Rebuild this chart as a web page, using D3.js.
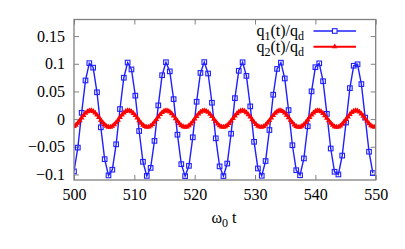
<!DOCTYPE html>
<html>
<head>
<meta charset="utf-8">
<script src="https://cdn.jsdelivr.net/npm/d3@7"></script>
<style>
  body { margin: 0; background: #fff; }
  svg text { font-family: "Liberation Serif", "Times New Roman", Times, "DejaVu Serif", serif; fill: #000; }
</style>
</head>
<body>
<div id="chart"></div>
<script>
// sampling grid (omega_0 t)
const t0 = 500;
const dtQ1 = 0.635;
const dtQ2 = 0.3175;

// q1(t)/q_d
const q1 = [
  -0.0944, -0.0515, 0.0114, 0.0699, 0.1011, 0.0930, 0.0485, -0.0148, -0.0724, -0.1017,
  -0.0914, -0.0455, 0.0182, 0.0748, 0.1022, 0.0898, 0.0424, -0.0215, -0.0771, -0.1026,
  -0.0881, -0.0393, 0.0248, 0.0793, 0.1028, 0.0863, 0.0361, -0.0281, -0.0814, -0.1030,
  -0.0844, -0.0329, 0.0314, 0.0835, 0.1030, 0.0824, 0.0296, -0.0347, -0.0854, -0.1029,
  -0.0803, -0.0263, 0.0379, 0.0873, 0.1027, 0.0781, 0.0230, -0.0410, -0.0891, -0.1024,
  -0.0758, -0.0197, 0.0441, 0.0907, 0.1020, 0.0735, 0.0163, -0.0472, -0.0923, -0.1014,
  -0.0710, -0.0129, 0.0502, 0.0938, 0.1008, 0.0685, 0.0095, -0.0531, -0.0951, -0.1000,
  -0.0659, -0.0061, 0.0560, 0.0964, 0.0991, 0.0633, 0.0027, -0.0589, -0.0975
];

// q2(t)/q_d
const q2 = [
  -0.0132, -0.0107, -0.0070, -0.0026, 0.0022, 0.0067, 0.0107, 0.0136, 0.0152, 0.0154,
  0.0140, 0.0113, 0.0076, 0.0031, -0.0017, -0.0062, -0.0100, -0.0128, -0.0143, -0.0143,
  -0.0128, -0.0100, -0.0061, -0.0016, 0.0031, 0.0076, 0.0114, 0.0141, 0.0154, 0.0152,
  0.0136, 0.0106, 0.0067, 0.0021, -0.0026, -0.0071, -0.0107, -0.0133, -0.0144, -0.0141,
  -0.0123, -0.0093, -0.0052, -0.0006, 0.0041, 0.0085, 0.0120, 0.0145, 0.0155, 0.0150,
  0.0131, 0.0099, 0.0058, 0.0011, -0.0036, -0.0079, -0.0114, -0.0136, -0.0145, -0.0139,
  -0.0118, -0.0085, -0.0043, 0.0004, 0.0051, 0.0093, 0.0127, 0.0148, 0.0155, 0.0147,
  0.0125, 0.0091, 0.0048, 0.0001, -0.0045, -0.0087, -0.0119, -0.0139, -0.0145, -0.0135,
  -0.0112, -0.0077, -0.0033, 0.0014, 0.0060, 0.0101, 0.0132, 0.0151, 0.0155, 0.0144,
  0.0119, 0.0082, 0.0039, -0.0009, -0.0055, -0.0095, -0.0125, -0.0142, -0.0144, -0.0132,
  -0.0105, -0.0068, -0.0024, 0.0024, 0.0069, 0.0108, 0.0137, 0.0153, 0.0154, 0.0139,
  0.0112, 0.0074, 0.0029, -0.0019, -0.0064, -0.0102, -0.0129, -0.0144, -0.0143, -0.0127,
  -0.0098, -0.0059, -0.0014, 0.0034, 0.0078, 0.0115, 0.0142, 0.0154, 0.0152, 0.0135,
  0.0105, 0.0065, 0.0019, -0.0028, -0.0072, -0.0109, -0.0134, -0.0145, -0.0141, -0.0122,
  -0.0091, -0.0050, -0.0004, 0.0043, 0.0087, 0.0122, 0.0145, 0.0155, 0.0149, 0.0129,
  0.0097, 0.0056, 0.0009, -0.0038, -0.0081, -0.0115, -0.0137, -0.0145
];

const xTicks = [500, 510, 520, 530, 540, 550];
const yTicks = [-0.1, -0.05, 0, 0.05, 0.1, 0.15];
const yTickLabels = ["\u22120.1", "\u22120.05", "0", "0.05", "0.1", "0.15"];

const serif = "'Liberation Serif', 'Times New Roman', Times, 'DejaVu Serif', serif";

const W = 405, H = 249;
const margin = {top: 19.5, right: 29.3, bottom: 69, left: 74};
const width = W - margin.left - margin.right;
const height = H - margin.top - margin.bottom;

const blue = "#1f1fff";
const red = "#ff0000";
const frameColor = "#808080";

const svg = d3.select("#chart").append("svg")
  .attr("width", W)
  .attr("height", H)
  .attr("font-family", serif);

const g = svg.append("g")
  .attr("transform", "translate(" + margin.left + "," + margin.top + ")");

const x = d3.scaleLinear().domain([500, 550]).range([0, width]);
const y = d3.scaleLinear().domain([-0.11, 0.18]).range([height, 0]);

// clip for curves
g.append("clipPath").attr("id", "clip")
  .append("rect").attr("width", width).attr("height", height);

// inward ticks on all four sides
const tickLen = 5;
const xAxisBottom = d3.axisBottom(x).tickValues(xTicks).tickSize(-tickLen).tickFormat(d3.format("d")).tickPadding(9);
const xAxisTop = d3.axisTop(x).tickValues(xTicks).tickSize(-tickLen).tickFormat("");
const yAxisLeft = d3.axisLeft(y).tickValues(yTicks).tickSize(-tickLen)
  .tickFormat((d, i) => yTickLabels[i]).tickPadding(9);
const yAxisRight = d3.axisRight(y).tickValues(yTicks).tickSize(-tickLen).tickFormat("");

function styleAxis(sel) {
  sel.attr("font-family", serif).attr("font-size", 16);
  sel.select(".domain").remove();
  sel.selectAll(".tick line").attr("stroke", frameColor).attr("stroke-width", 1);
  sel.selectAll(".tick text").attr("fill", "#000");
}

g.append("g").attr("transform", "translate(0," + height + ")").call(xAxisBottom).call(styleAxis);
g.append("g").call(xAxisTop).call(styleAxis);
g.append("g").call(yAxisLeft).call(styleAxis);
g.append("g").attr("transform", "translate(" + width + ",0)").call(yAxisRight).call(styleAxis);

const plot = g.append("g").attr("clip-path", "url(#clip)");

const q1Data = q1.map((v, i) => ({t: t0 + i * dtQ1, v: v}));
const q2Data = q2.map((v, i) => ({t: t0 + i * dtQ2, v: v}));

const line = d3.line().x(d => x(d.t)).y(d => y(d.v));

// q1: blue line with open squares
plot.append("path")
  .datum(q1Data)
  .attr("d", line)
  .attr("fill", "none")
  .attr("stroke", blue)
  .attr("stroke-width", 1.4);

const sq = 4.6;
plot.selectAll(".sq")
  .data(q1Data)
  .enter().append("rect")
  .attr("class", "sq")
  .attr("x", d => x(d.t) - sq / 2)
  .attr("y", d => y(d.v) - sq / 2)
  .attr("width", sq)
  .attr("height", sq)
  .attr("fill", "none")
  .attr("stroke", blue)
  .attr("stroke-width", 1.1);

// q2: red line with filled triangles
plot.append("path")
  .datum(q2Data)
  .attr("d", line)
  .attr("fill", "none")
  .attr("stroke", red)
  .attr("stroke-width", 2);

const tri = d3.symbol().type(d3.symbolTriangle).size(14);
plot.selectAll(".tri")
  .data(q2Data)
  .enter().append("path")
  .attr("class", "tri")
  .attr("transform", d => "translate(" + x(d.t) + "," + y(d.v) + ")")
  .attr("d", tri)
  .attr("fill", red);

// frame
g.append("rect")
  .attr("width", width)
  .attr("height", height)
  .attr("fill", "none")
  .attr("stroke", frameColor)
  .attr("stroke-width", 1.3);

// legend
const legend = g.append("g");
const legendItems = [
  {name: "q", sub1: "1", rest: "(t)/q", sub2: "d", color: blue, kind: "sq"},
  {name: "q", sub1: "2", rest: "(t)/q", sub2: "d", color: red, kind: "tri"}
];
legendItems.forEach((it, i) => {
  const ly = 31 - margin.top + i * 15.7;
  const txt = legend.append("text")
    .attr("x", 304 - margin.left)
    .attr("y", ly + 5)
    .attr("text-anchor", "end")
    .attr("font-family", serif)
    .attr("font-size", 16);
  txt.append("tspan").text(it.name);
  txt.append("tspan").attr("dy", 4).attr("font-size", 12).text(it.sub1);
  txt.append("tspan").attr("dy", -4).text(it.rest);
  txt.append("tspan").attr("dy", 4).attr("font-size", 12).text(it.sub2);

  const x1 = 313.5 - margin.left, x2 = 356 - margin.left, xm = (x1 + x2) / 2;
  legend.append("line")
    .attr("x1", x1).attr("x2", x2).attr("y1", ly).attr("y2", ly)
    .attr("stroke", it.color).attr("stroke-width", it.kind === "sq" ? 1.4 : 2);
  if (it.kind === "sq") {
    legend.append("rect")
      .attr("x", xm - sq / 2).attr("y", ly - sq / 2)
      .attr("width", sq).attr("height", sq)
      .attr("fill", "#fff").attr("stroke", it.color).attr("stroke-width", 1.1);
  } else {
    legend.append("path")
      .attr("transform", "translate(" + xm + "," + ly + ")")
      .attr("d", tri).attr("fill", it.color);
  }
});

// x axis title: omega_0 t
const xt = svg.append("text")
  .attr("x", 224)
  .attr("y", 223)
  .attr("text-anchor", "middle")
  .attr("font-family", serif)
  .attr("font-size", 16);
xt.append("tspan").text("\u03c9");
xt.append("tspan").attr("dy", 4).attr("font-size", 12).text("0");
xt.append("tspan").attr("dy", -4).text(" t");
</script>
</body>
</html>
